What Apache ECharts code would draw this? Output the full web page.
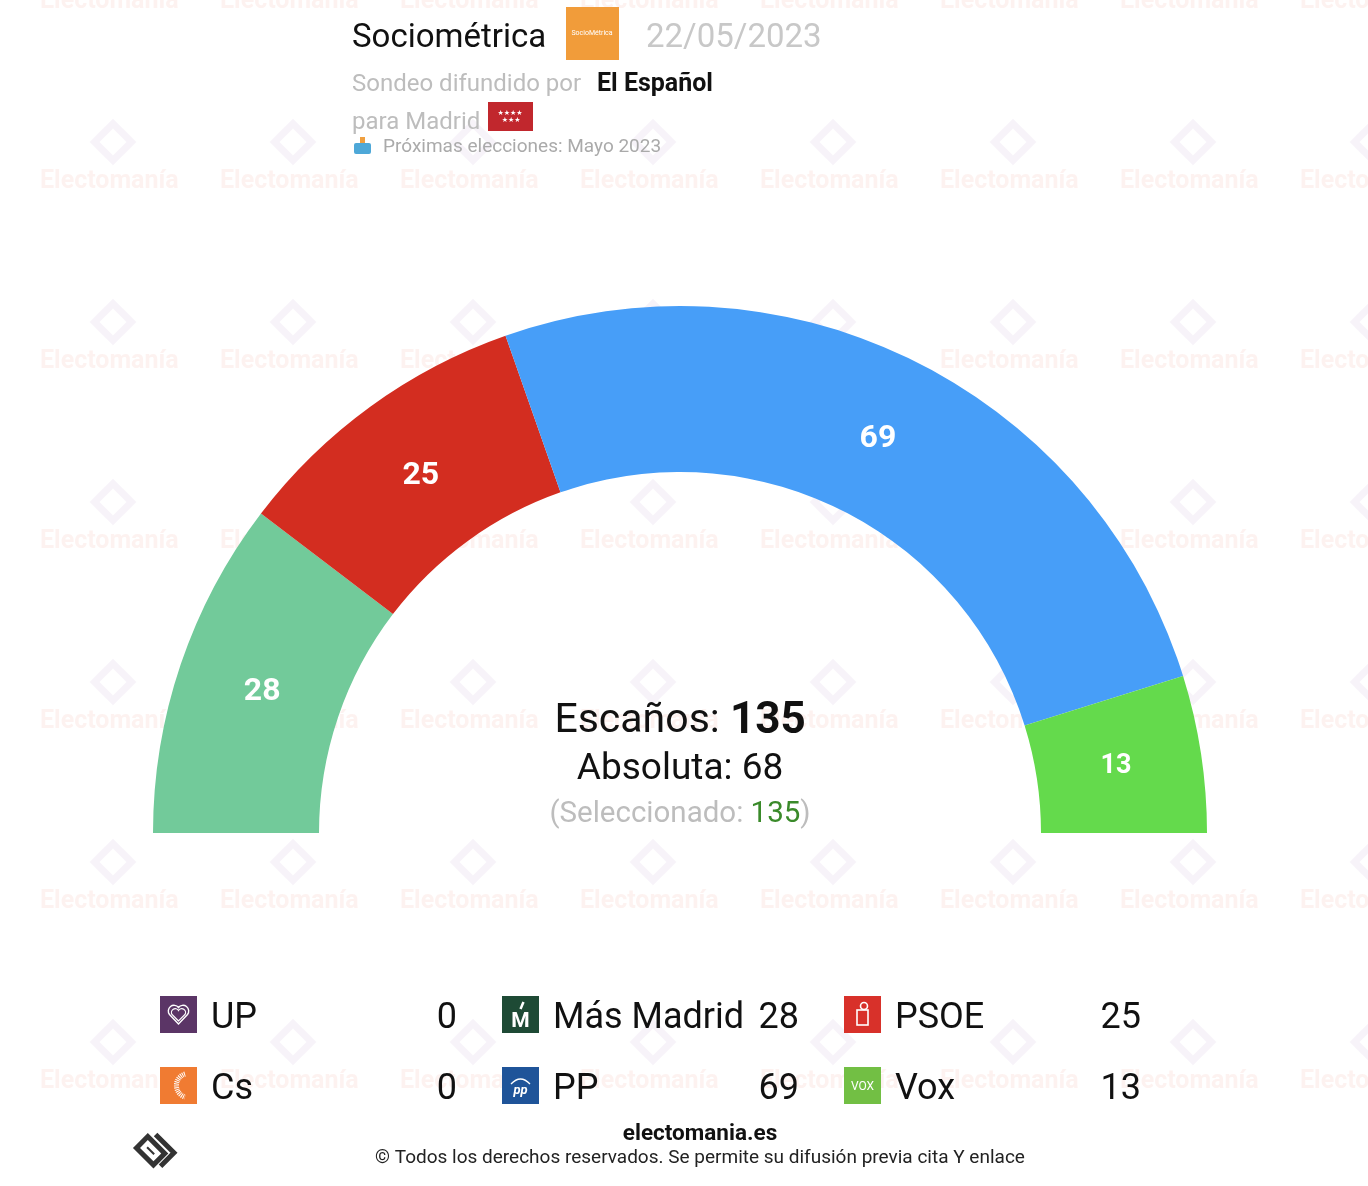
<!DOCTYPE html>
<html>
<head>
	<meta charset="utf-8">
	<title>Sociométrica - Madrid</title>
	<style type="text/css">
		html, body { margin: 0; padding: 0; background: #fff; }
		#chart { width: 1368px; height: 1186px; }
	</style>
</head>
<body>
	<div id="chart"></div>
	<script src="https://cdn.jsdelivr.net/npm/echarts@6/dist/echarts.min.js"></script>
	<script type="text/javascript">
	// seats per party
	const PARTIES = ['UP', 'Más Madrid', 'PSOE', 'Cs', 'PP', 'Vox'];
	const SEATS = [0, 28, 25, 0, 69, 13];
	const SLICE_COLORS = ['#5B3566', '#72CA9A', '#D32D20', '#F07B32', '#479EF8', '#64DA4C'];
	const ICON_COLORS = ['#5B3566', '#1E4A35', '#D8312A', '#F07B32', '#1F5499', '#72BF44'];
	// order of the slices around the arc, left to right
	const ARC_ORDER = ['UP', 'Cs', 'Más Madrid', 'PSOE', 'PP', 'Vox'];
	const LEGEND_ROW_1 = ['UP', 'Más Madrid', 'PSOE'];
	const LEGEND_ROW_2 = ['Cs', 'PP', 'Vox'];

	const TOTAL_SEATS = 135;
	const MAJORITY = 68;
	const SELECTED = 135;

	const TXT = {
		POLLSTER: 'Sociométrica',
		DATE: '22/05/2023',
		SPREAD_BY: 'Sondeo difundido por',
		MEDIA: 'El Español',
		REGION: 'para Madrid',
		NEXT: 'Próximas elecciones: Mayo 2023',
		SEATS: 'Escaños: ',
		ABS: 'Absoluta: ',
		SEL: 'Seleccionado: ',
		SITE: 'electomania.es',
		RIGHTS: '© Todos los derechos reservados. Se permite su difusión previa cita Y enlace',
		WATERMARK: 'Electomanía'
	};

	const FONT = 'Roboto, "Noto Sans", sans-serif';

	function seatsOf(name) {
		return SEATS[PARTIES.indexOf(name)];
	}

	function svgIcon(bg, inner) {
		let svg = '<svg xmlns="http://www.w3.org/2000/svg" width="74" height="74" viewBox="0 0 37 37">' +
			'<rect width="37" height="37" fill="' + bg + '"/>' + inner + '</svg>';
		return 'image://data:image/svg+xml;charset=utf-8,' + encodeURIComponent(svg);
	}

	const ICON_INNER = {
		'UP': '<path d="M18.5 28 L9.5 18.5 A5 5 0 0 1 18.5 11.5 A5 5 0 0 1 27.5 18.5 Z" fill="none" stroke="#fff" stroke-width="1.4"/>' +
			'<path d="M18.5 25 L12 18.5 A3.3 3.3 0 0 1 18.5 14.5 A3.3 3.3 0 0 1 25 18.5 Z" fill="none" stroke="#fff" stroke-width="1.2"/>',
		'Más Madrid': '<text x="18.5" y="31" font-family="Roboto" font-weight="bold" font-size="21" fill="#fff" text-anchor="middle">M</text>' +
			'<path d="M21.5 6 L18.5 13" stroke="#fff" stroke-width="2.5"/>',
		'PSOE': '<rect x="13" y="14" width="11" height="15" fill="none" stroke="#fff" stroke-width="1.6"/>' +
			'<circle cx="20" cy="10" r="3.5" fill="none" stroke="#fff" stroke-width="1.6"/>',
		'Cs': '<path d="M25 7 A12 12 0 0 0 25 30" fill="none" stroke="#fff" stroke-width="5" stroke-dasharray="1 0.9"/>',
		'PP': '<path d="M9 17 Q18.5 7 28 17" fill="none" stroke="#fff" stroke-width="1.3"/>' +
			'<text x="18.5" y="27" font-family="Roboto" font-weight="bold" font-style="italic" font-size="13" fill="#fff" text-anchor="middle">pp</text>',
		'Vox': '<text x="18.5" y="23" font-family="Roboto" font-size="12" fill="#fff" text-anchor="middle">VOX</text>'
	};

	function legendData(names) {
		return names.map(function (name) {
			let i = PARTIES.indexOf(name);
			return { name: name, icon: svgIcon(ICON_COLORS[i], ICON_INNER[name]) };
		});
	}

	function buildLegend(names, top) {
		return {
			data: legendData(names),
			left: 160,
			top: top,
			padding: 0,
			orient: 'horizontal',
			itemWidth: 37,
			itemHeight: 37,
			itemGap: 45,
			selectedMode: false,
			formatter: function (name) {
				return '{g|}{n|' + name + '}{v|' + seatsOf(name) + '}';
			},
			textStyle: {
				rich: {
					g: { width: 9 },
					n: { width: 190, fontSize: 36, fontFamily: FONT, color: '#111', padding: [8, 0, 0, 0] },
					v: { width: 56, align: 'right', fontSize: 36, fontFamily: FONT, color: '#111', padding: [8, 0, 0, 0] }
				}
			}
		};
	}

	function watermark() {
		let items = [];
		for (let j = 0; j < 7; j++) {
			for (let i = 0; i < 8; i++) {
				let x = 40 + i * 180;
				let y = 2 + j * 180;
				items.push({
					type: 'text', silent: true, z: -10,
					style: {
						text: TXT.WATERMARK, x: x, y: y, verticalAlign: 'middle',
						fill: 'rgba(240, 150, 130, 0.12)', fontSize: 25, fontWeight: 'bold', fontFamily: FONT
					}
				});
				items.push({
					type: 'rect', silent: true, z: -10,
					x: x + 73, y: y - 40, rotation: Math.PI / 4,
					shape: { x: -13, y: -13, width: 26, height: 26 },
					style: { fill: 'none', stroke: 'rgba(180, 140, 200, 0.10)', lineWidth: 7 }
				});
			}
		}
		return items;
	}

	function headerAndFooter() {
		return [
			{ type: 'text', style: { text: TXT.POLLSTER, x: 352, y: 39, verticalAlign: 'middle', fill: '#111', fontSize: 33, fontFamily: FONT } },
			{ type: 'rect', shape: { x: 566, y: 7, width: 53, height: 53 }, style: { fill: '#F19C3A' } },
			{ type: 'text', style: { text: 'SocioMétrica', x: 592, y: 33, align: 'center', verticalAlign: 'middle', fill: '#fff', fontSize: 7, fontFamily: FONT } },
			{ type: 'text', style: { text: TXT.DATE, x: 646, y: 39, verticalAlign: 'middle', fill: '#C8C8C8', fontSize: 33, fontFamily: FONT } },
			{ type: 'text', style: { text: TXT.SPREAD_BY, x: 352, y: 85, verticalAlign: 'middle', fill: '#BDBDBD', fontSize: 24, fontFamily: FONT } },
			{ type: 'text', style: { text: TXT.MEDIA, x: 597, y: 85, verticalAlign: 'middle', fill: '#111', fontSize: 25, fontWeight: 'bold', fontFamily: FONT } },
			{ type: 'text', style: { text: TXT.REGION, x: 352, y: 123, verticalAlign: 'middle', fill: '#BDBDBD', fontSize: 24, fontFamily: FONT } },
			{ type: 'rect', shape: { x: 488, y: 102, width: 45, height: 29 }, style: { fill: '#C1272D' } },
			{ type: 'text', style: { text: '★★★★\n ★★★', x: 510, y: 117, align: 'center', verticalAlign: 'middle', fill: '#fff', fontSize: 7, lineHeight: 7, fontFamily: '"DejaVu Sans"' } },
			{ type: 'rect', shape: { x: 354, y: 143, width: 17, height: 11, r: 2 }, style: { fill: '#4EA8D8' } },
			{ type: 'rect', shape: { x: 360, y: 137, width: 5, height: 6 }, style: { fill: '#F0A040' } },
			{ type: 'text', style: { text: TXT.NEXT, x: 383, y: 147, verticalAlign: 'middle', fill: '#AAAAAA', fontSize: 19, fontFamily: FONT } },

			{ type: 'text', style: { text: '{a|' + TXT.SEATS + '}{b|' + TOTAL_SEATS + '}', x: 680, y: 722, align: 'center', verticalAlign: 'middle',
				rich: { a: { fontSize: 41, fontFamily: FONT, fill: '#111' }, b: { fontSize: 44, fontWeight: 'bold', fontFamily: FONT, fill: '#111' } } } },
			{ type: 'text', style: { text: TXT.ABS + MAJORITY, x: 680, y: 770, align: 'center', verticalAlign: 'middle', fill: '#111', fontSize: 37, fontFamily: FONT } },
			{ type: 'text', style: { text: '{a|(' + TXT.SEL + '}{b|' + SELECTED + '}{a|)}', x: 680, y: 815, align: 'center', verticalAlign: 'middle',
				rich: { a: { fontSize: 29.5, fontFamily: FONT, fill: '#BDBDBD' }, b: { fontSize: 29.5, fontFamily: FONT, fill: '#3A8A2A' } } } },

			{ type: 'text', style: { text: TXT.SITE, x: 700, y: 1134, align: 'center', verticalAlign: 'middle', fill: '#111', fontSize: 22.5, fontWeight: 'bold', fontFamily: FONT } },
			{ type: 'text', style: { text: TXT.RIGHTS, x: 700, y: 1158, align: 'center', verticalAlign: 'middle', fill: '#222', fontSize: 19, fontFamily: FONT } },
			// footer logo
			{ type: 'group', x: 157, y: 1150, rotation: Math.PI / 4, children: [
				{ type: 'rect', shape: { x: -13, y: -16, width: 16, height: 24 }, style: { fill: 'none', stroke: '#333', lineWidth: 5 } },
				{ type: 'polyline', shape: { points: [[-9, 14], [10, 14], [10, -12]] }, style: { fill: 'none', stroke: '#333', lineWidth: 5 } },
				{ type: 'line', shape: { x1: -5, y1: -9, x2: -5, y2: 1 }, style: { stroke: '#333', lineWidth: 2 } }
			] }
		];
	}

	function drawChart() {
		let myChart = echarts.init(document.getElementById('chart'), null, { renderer: 'canvas' });

		let slices = ARC_ORDER.map(function (name) {
			let i = PARTIES.indexOf(name);
			return { name: name, value: SEATS[i], itemStyle: { color: SLICE_COLORS[i] } };
		});
		// same values on a slightly narrower transparent ring, only to carry the labels
		let labelSlices = ARC_ORDER.map(function (name) {
			let v = seatsOf(name);
			return {
				name: name,
				value: v,
				label: { show: v > 0, fontSize: v < 20 ? 27 : 32 }
			};
		});

		let ring = {
			type: 'pie',
			center: [680, 833],
			startAngle: 180,
			endAngle: 0,
			clockwise: true,
			silent: true,
			avoidLabelOverlap: false,
			labelLine: { show: false },
			emphasis: { disabled: true }
		};

		let option = {
			animation: false,
			backgroundColor: '#fff',
			graphic: { elements: watermark().concat(headerAndFooter()) },
			legend: [buildLegend(LEGEND_ROW_1, 996), buildLegend(LEGEND_ROW_2, 1067)],
			series: [
				Object.assign({}, ring, {
					name: 'Escaños',
					radius: [361, 527],
					label: { show: false },
					data: slices
				}),
				Object.assign({}, ring, {
					name: 'Etiquetas',
					radius: [361, 515],
					itemStyle: { color: 'rgba(0,0,0,0)' },
					label: {
						show: true,
						position: 'inside',
						formatter: '{c}',
						color: '#fff',
						fontWeight: 'bold',
						fontFamily: FONT
					},
					data: labelSlices
				})
			]
		};

		myChart.setOption(option);
	}

	drawChart();
	</script>
</body>
</html>
